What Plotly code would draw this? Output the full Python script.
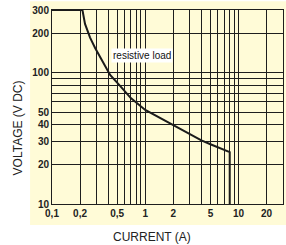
import math
import plotly.graph_objects as go

# Data
current_a = [0.1, 0.212, 0.226, 0.256, 0.29, 0.342, 0.42, 0.54, 0.7, 1.0, 2.0, 3.0, 4.0, 5.0, 6.0, 7.0, 8.05, 8.05]
voltage_v = [300, 300, 235, 185, 154, 126, 96, 79, 64, 52, 40, 34, 30.5, 28.5, 27, 25.8, 24.8, 10]

x_grid_vals = [0.1, 0.2, 0.3, 0.4, 0.5, 0.6, 0.7, 0.8, 0.9, 1, 2, 3, 4, 5, 6, 7, 8, 9, 10, 20]
x_grid_text = ["0,1", "0,2", "", "", "0,5", "", "", "", "", "1", "2", "", "", "5", "", "", "", "", "10", "20"]

y_grid_vals = [10, 20, 30, 40, 50, 60, 70, 80, 90, 100, 200, 300]
y_grid_text = ["10", "20", "30", "40", "50", "", "", "", "", "100", "200", "300"]

label_text = "resistive load"
label_current = 0.93
label_voltage = 136

BG = "#FFFBD7"
GRID = "#1e1e1e"
FONT = "Liberation Sans, Arial, sans-serif"

fig = go.Figure()
fig.add_trace(go.Scatter(
    x=current_a, y=voltage_v, mode="lines",
    line=dict(color="#1a1a1a", width=2),
    hoverinfo="skip", showlegend=False,
))

fig.update_layout(
    width=286, height=245,
    margin=dict(l=52, r=3, t=10, b=41, autoexpand=False),
    paper_bgcolor="white",
    plot_bgcolor=BG,
    font=dict(family=FONT, color="#222222"),
    shapes=[dict(
        type="rect", xref="paper", yref="paper",
        x0=-0.095, x1=1.02, y0=-0.108, y1=1.045,
        fillcolor=BG, line=dict(width=0), layer="below",
    )],
    annotations=[
        dict(
            x=math.log10(label_current), y=math.log10(label_voltage),
            xref="x", yref="y", text=label_text, showarrow=False,
            bgcolor="white", font=dict(size=10, color="#111111", family=FONT),
            borderpad=1,
        ),
        dict(
            x=0.433, y=-0.17, xref="paper", yref="paper",
            text="CURRENT (A)", showarrow=False,
            font=dict(size=12, color="#222222", family=FONT),
            xanchor="center", yanchor="middle",
        ),
        dict(
            x=-0.147, y=0.39, xref="paper", yref="paper",
            text="VOLTAGE (V DC)", showarrow=False, textangle=-90,
            font=dict(size=12, color="#222222", family=FONT),
            xanchor="center", yanchor="middle",
        ),
    ],
)

tickfont = dict(size=10, family="Liberation Sans, Arial", color="#222222", weight="bold")

fig.update_xaxes(
    type="log", range=[-1, math.log10(30)],
    tickmode="array", tickvals=x_grid_vals, ticktext=x_grid_text,
    tickfont=tickfont, automargin=False,
    showgrid=True, gridcolor=GRID, gridwidth=1,
    showline=True, linecolor=GRID, linewidth=1, mirror=True,
    ticks="", zeroline=False, fixedrange=True,
)
fig.update_yaxes(
    type="log", range=[1, math.log10(300)],
    tickmode="array", tickvals=y_grid_vals, ticktext=y_grid_text,
    tickfont=tickfont, automargin=False,
    showgrid=True, gridcolor=GRID, gridwidth=1,
    showline=True, linecolor=GRID, linewidth=1, mirror=True,
    ticks="", zeroline=False, fixedrange=True,
)

fig.write_html(
    "out.html",
    config=dict(displayModeBar=False),
    post_script="document.body.style.margin='0';document.body.style.padding='0';",
)
